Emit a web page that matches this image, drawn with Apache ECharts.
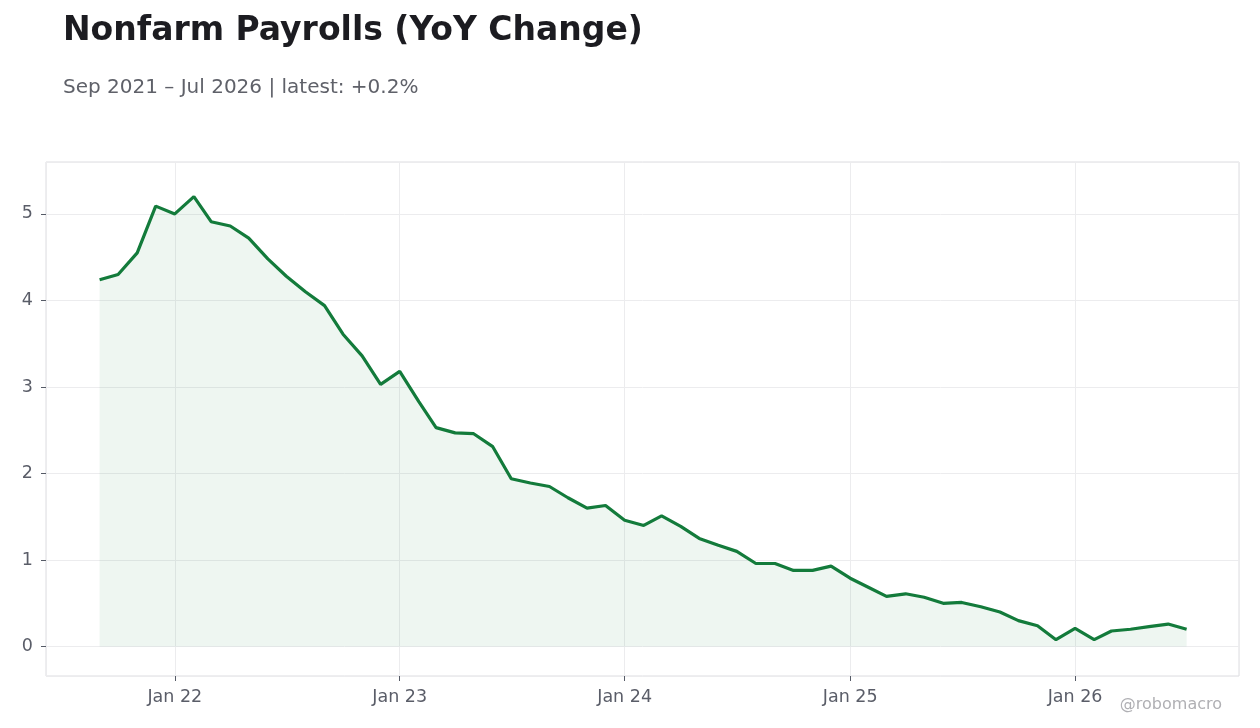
<!DOCTYPE html>
<html>
<head>
<meta charset="utf-8">
<script src="https://cdn.jsdelivr.net/npm/echarts@6/dist/echarts.min.js"></script>
<style>
  html, body { margin: 0; padding: 0; background: #fff; }
  #chart { width: 1260px; height: 728px; }
</style>
</head>
<body>
<div id="chart"></div>
<script>
// monthly YoY change in nonfarm payrolls, Sep 2021 .. Jul 2026
var startYear = 2021;
var startMonth = 8; // September (0-based)
var yoyValues = [
  4.24, 4.30, 4.55, 5.09,
  5.00, 5.20, 4.91, 4.86, 4.72, 4.48, 4.28, 4.10, 3.94, 3.61, 3.36, 3.03,
  3.18, 2.83, 2.53, 2.47, 2.46, 2.31, 1.94, 1.89, 1.85, 1.72, 1.60, 1.63,
  1.46, 1.40, 1.51, 1.39, 1.25, 1.17, 1.10, 0.96, 0.96, 0.88, 0.88, 0.93,
  0.79, 0.68, 0.58, 0.61, 0.57, 0.50, 0.51, 0.46, 0.40, 0.30, 0.24, 0.08,
  0.21, 0.08, 0.18, 0.20, 0.23, 0.26, 0.20
];
var yTicks = [0, 1, 2, 3, 4, 5];

var FONT = 'DejaVu Sans';

var seriesData = yoyValues.map(function (v, i) {
  return [Date.UTC(startYear, startMonth + i, 1), v];
});

var chart = echarts.init(document.getElementById('chart'));

var option = {
  useUTC: true,
  animation: false,
  textStyle: { fontFamily: FONT },
  title: [
    {
      text: 'Nonfarm Payrolls (YoY Change)',
      left: 58, top: 10,
      textStyle: { fontSize: 33, fontWeight: 'bold', color: '#1c1c21', fontFamily: FONT }
    },
    {
      text: 'Sep 2021 \u2013 Jul 2026 | latest: +0.2%',
      left: 58, top: 73,
      textStyle: { fontSize: 20, fontWeight: 'normal', color: '#5f6169', fontFamily: FONT }
    },
    {
      text: '@robomacro',
      right: 33, top: 692,
      textStyle: { fontSize: 16, fontWeight: 'normal', color: '#b0b0b4', fontFamily: FONT }
    }
  ],
  grid: {
    left: 46, right: 21, top: 162, bottom: 52,
    show: true, borderColor: '#dddde0', borderWidth: 1, backgroundColor: 'transparent'
  },
  xAxis: {
    type: 'time',
    min: Date.UTC(2021, 5, 6),
    max: Date.UTC(2026, 8, 24),
    splitNumber: 5,
    axisLine: { show: false, onZero: false },
    axisTick: { show: true, length: 5, lineStyle: { color: '#555a66' } },
    axisLabel: {
      color: '#5a5d68', fontSize: 17.5, margin: 12, fontFamily: FONT,
      showMinLabel: false, showMaxLabel: false,
      formatter: function (value) {
        var d = new Date(value);
        if (d.getUTCMonth() === 0 && d.getUTCDate() === 1) {
          return 'Jan ' + String(d.getUTCFullYear()).slice(2);
        }
        return '';
      }
    },
    splitLine: { show: true, lineStyle: { color: '#ececee', width: 1 } }
  },
  yAxis: {
    type: 'value',
    min: -0.34,
    max: 5.6,
    splitNumber: 5,
    axisLine: { show: false, onZero: false },
    axisTick: { show: true, length: 5, lineStyle: { color: '#555a66' } },
    axisLabel: {
      color: '#5a5d68', fontSize: 17.5, margin: 13, fontFamily: FONT,
      showMinLabel: false, showMaxLabel: false,
      formatter: function (v) { return yTicks.indexOf(v) >= 0 ? String(v) : ''; }
    },
    splitLine: { show: true, lineStyle: { color: '#ececee', width: 1 } }
  },
  series: [
    {
      type: 'line',
      data: seriesData,
      showSymbol: false,
      lineStyle: { color: '#137b3b', width: 3.2 },
      itemStyle: { color: '#137b3b' },
      areaStyle: { color: 'rgba(19,123,59,0.1)', origin: 0 }
    }
  ]
};

chart.setOption(option);
</script>
</body>
</html>
